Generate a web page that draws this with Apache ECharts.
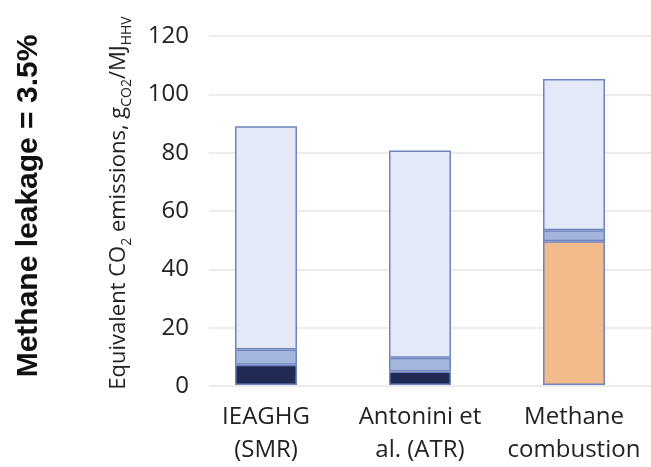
<!DOCTYPE html>
<html>
<head>
<meta charset="utf-8">
<script src="https://cdn.jsdelivr.net/npm/echarts@6/dist/echarts.min.js"></script>
<style>
  html, body { margin: 0; padding: 0; background: #fff; }
  #main { width: 651px; height: 467px; }
</style>
</head>
<body>
<div id="main"></div>
<script>
var categories = ['IEAGHG\n(SMR)', 'Antonini et\nal. (ATR)', 'Methane\ncombustion'];

// stacked segments, bottom to top
var directCO2 = [7.0, 4.6, null];
var combustionCO2 = [null, null, 49.4];
var upstreamCO2 = [5.2, 4.8, 3.8];
var leakageCO2 = [76.8, 71.2, 52.0];

var yTicks = [0, 20, 40, 60, 80, 100, 120];

var chart = echarts.init(document.getElementById('main'), null, { renderer: 'canvas' });

var border = { borderColor: '#6f84c0', borderWidth: 1.5 };

function seg(name, data, color) {
  return {
    name: name,
    type: 'bar',
    stack: 'total',
    xAxisIndex: 1,
    yAxisIndex: 1,
    barWidth: 62,
    data: data,
    itemStyle: Object.assign({ color: color }, border)
  };
}

var option = {
  animation: false,
  grid: [
    // gridlines + y labels
    { left: 209, right: 0, top: 36, bottom: 81 },
    // bars
    { left: 189, right: -4, top: 36, bottom: 81 }
  ],
  xAxis: [
    { gridIndex: 0, type: 'category', data: categories, show: false },
    {
      gridIndex: 1,
      type: 'category',
      data: categories,
      axisLine: { show: false },
      axisTick: { show: false },
      axisLabel: {
        interval: 0,
        margin: 16,
        fontFamily: 'Open Sans',
        fontSize: 24,
        lineHeight: 33,
        color: '#222'
      }
    }
  ],
  yAxis: [
    {
      gridIndex: 0,
      type: 'value',
      min: yTicks[0],
      max: yTicks[yTicks.length - 1],
      interval: 20,
      axisLine: { show: false },
      axisTick: { show: false },
      axisLabel: {
        margin: 20,
        fontFamily: 'Open Sans',
        fontSize: 24,
        color: '#222'
      },
      splitLine: { lineStyle: { color: '#e4e4e4', width: 1.5 } }
    },
    {
      gridIndex: 1,
      type: 'value',
      min: 0,
      max: 120,
      interval: 20,
      show: false,
      splitLine: { show: false }
    }
  ],
  graphic: [
    {
      type: 'text',
      x: 29,
      y: 206,
      rotation: Math.PI / 2,
      style: {
        text: 'Methane leakage = 3.5%',
        fontFamily: 'Liberation Sans',
        fontWeight: 'bold',
        fontSize: 30,
        fill: '#111',
        align: 'center',
        verticalAlign: 'middle'
      }
    },
    {
      type: 'text',
      x: 119,
      y: 203,
      rotation: Math.PI / 2,
      style: {
        text: '{n|Equivalent CO}{s|2}{n| emissions, g}{s|CO2}{n|/MJ}{s|HHV}',
        align: 'center',
        verticalAlign: 'middle',
        rich: {
          n: { fontFamily: 'Open Sans', fontSize: 22, lineHeight: 30, fill: '#222', color: '#222' },
          s: { fontFamily: 'Open Sans', fontSize: 14, lineHeight: 15, verticalAlign: 'bottom', fill: '#222', color: '#222' }
        }
      }
    }
  ],
  series: [
    seg('Direct', directCO2, '#1f2a55'),
    seg('Combustion', combustionCO2, '#f0ba8b'),
    seg('Upstream', upstreamCO2, '#a4b5de'),
    seg('Leakage', leakageCO2, '#e3e9f6')
  ]
};

chart.setOption(option);
</script>
</body>
</html>
